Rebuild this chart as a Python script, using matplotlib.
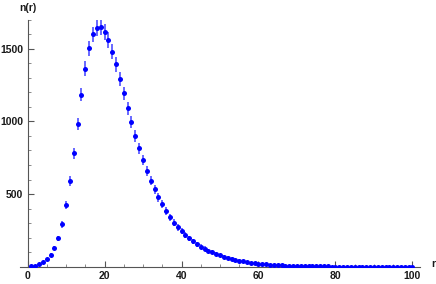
import numpy as np
import matplotlib
matplotlib.use("Agg")
import matplotlib.pyplot as plt
from matplotlib.ticker import MultipleLocator

# distribution, r = 1..100
r = np.arange(1, 101)
n = np.array([
    3, 8, 16, 30, 51, 80, 127, 195, 292, 425,
    590, 780, 984, 1184, 1363, 1503, 1599, 1645, 1650, 1617,
    1560, 1480, 1393, 1294, 1193, 1092, 994, 902, 816, 734,
    661, 592, 533, 478, 431, 383, 340, 303, 271, 246,
    218, 195, 175, 154, 138, 124, 110, 99, 87, 78,
    69, 61, 54, 47, 41, 36, 32, 28, 24, 21,
    18, 16, 14, 12, 10, 9, 8, 7, 6, 5,
    4, 4, 3, 3, 2, 2, 2, 2, 1, 1,
    1, 1, 1, 1, 1, 1, 1, 1, 1, 1,
    0, 0, 0, 0, 0, 0, 0, 0, 0, 0,
])
# poisson-like errors
err = 1.35 * np.sqrt(n)

plt.rcParams['font.family'] = ['Liberation Sans', 'DejaVu Sans']
plt.rcParams['font.weight'] = 'bold'

fig = plt.figure(figsize=(4.36, 2.84), dpi=100)
ax = fig.add_axes([20 / 436, 17.3 / 284, 400 / 436, 247 / 284])

ax.errorbar(r, n, yerr=err, fmt='none', ecolor=(0.15, 0.15, 1.0), elinewidth=1.3,
            alpha=0.75, capsize=0, zorder=2)
ax.plot(r, n, 'o', color=(0, 0, 1), markersize=3.6, markeredgewidth=0, zorder=3)

ax.set_xlim(-1.95, 101.95)
ax.set_ylim(0, 1700)

for side in ('top', 'right'):
    ax.spines[side].set_visible(False)
ax.spines['left'].set_position(('data', 0))
for side in ('left', 'bottom'):
    ax.spines[side].set_color('#555555')
    ax.spines[side].set_linewidth(0.8)

ax.set_xticks([0, 20, 40, 60, 80, 100])
ax.set_yticks([500, 1000, 1500])
ax.xaxis.set_minor_locator(MultipleLocator(5))
ax.yaxis.set_minor_locator(MultipleLocator(100))
ax.tick_params(which='major', direction='in', length=4, width=0.8, color='#555555',
               labelsize=7.5, labelcolor='#1a1a1a', pad=3)
ax.tick_params(which='minor', direction='in', length=2.3, width=0.6, color='#777777')

ax.annotate('n(r)', xy=(0, 1), xycoords=('data', 'axes fraction'), xytext=(0, 5),
            textcoords='offset points', ha='center', va='bottom', fontsize=7.5,
            color='#1a1a1a')
ax.annotate('r', xy=(1, 0), xycoords='axes fraction', xytext=(8, 2),
            textcoords='offset points', ha='left', va='center', fontsize=7.5,
            color='#1a1a1a')

fig.savefig('out.png', dpi=100)
